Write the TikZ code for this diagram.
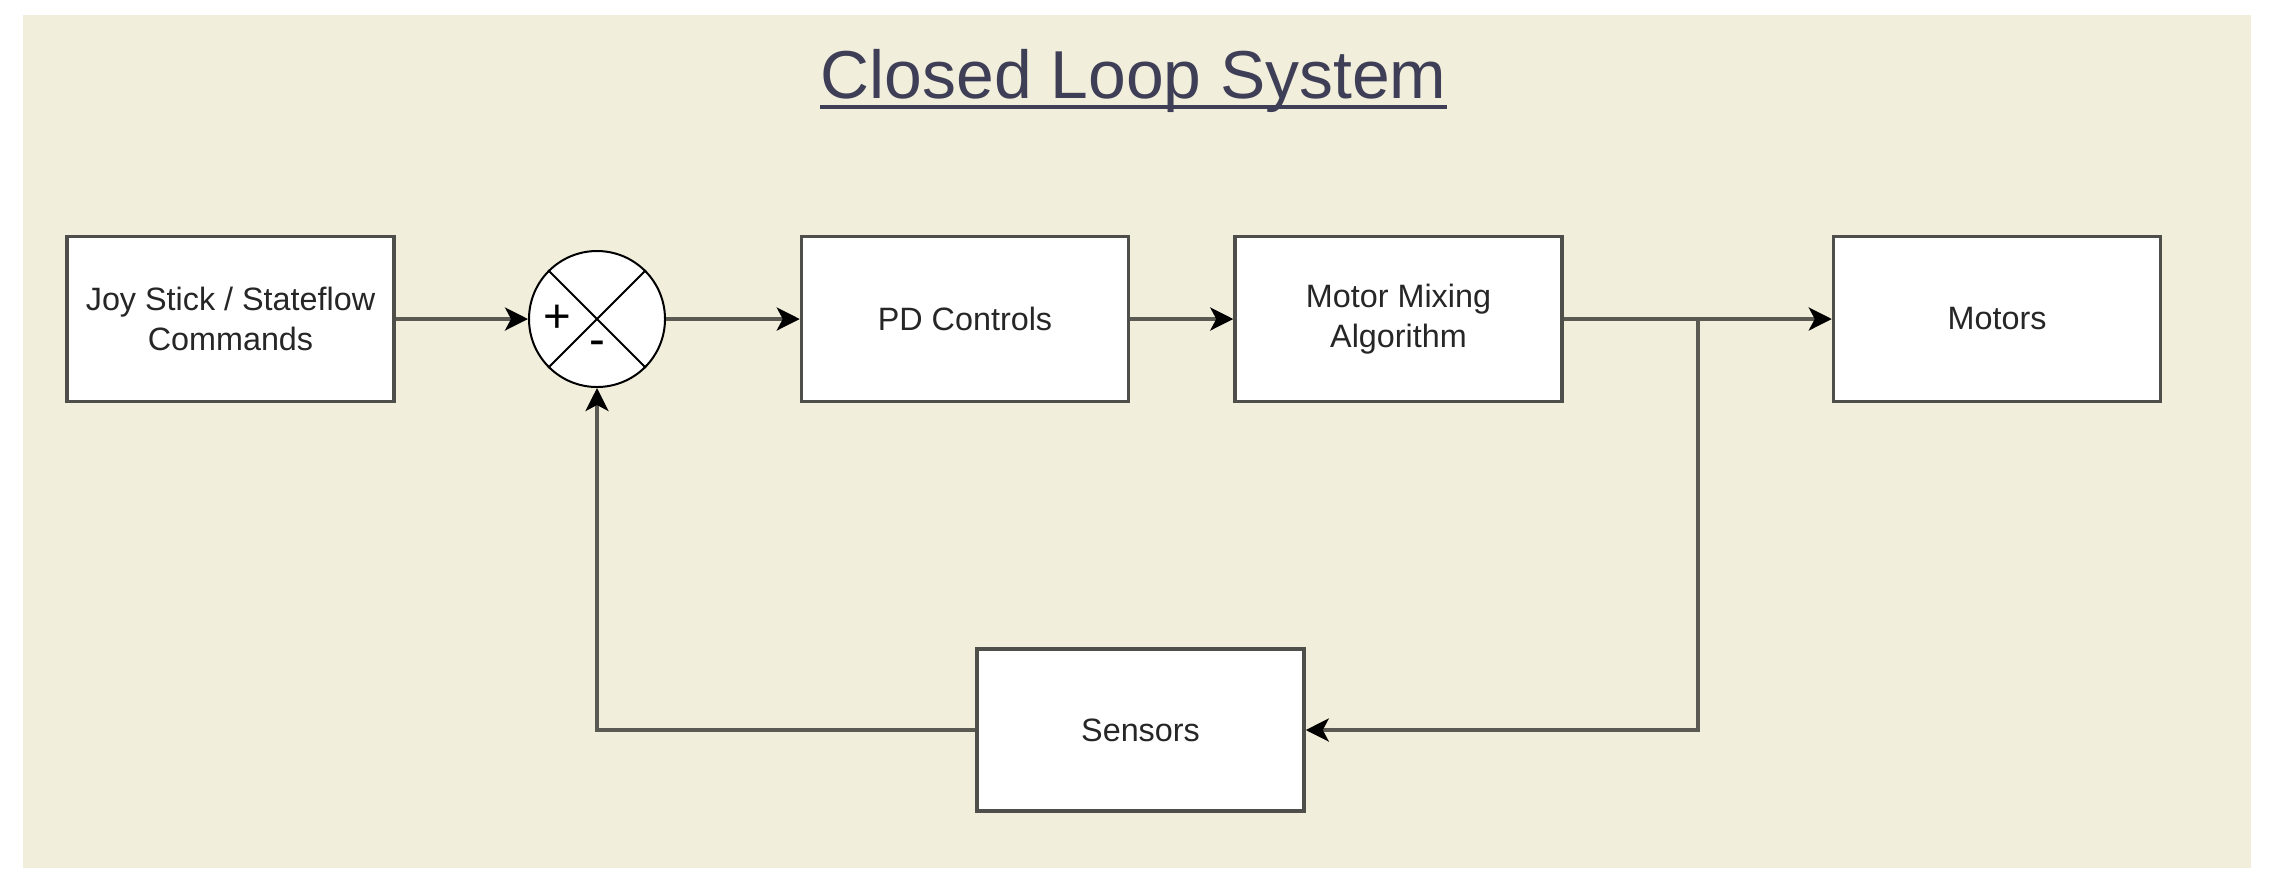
\documentclass[tikz,border=0pt]{standalone}
\usepackage{fontspec}
\setmainfont{Liberation Sans}
\usetikzlibrary{arrows.meta,calc,positioning}
\definecolor{paper}{HTML}{F2EEDC}
\definecolor{titleink}{HTML}{3E3F57}
\definecolor{wire}{HTML}{5A5A52}
\definecolor{edge}{HTML}{4E4E4A}

\begin{document}
\begin{tikzpicture}[
    font=\fontsize{9.2}{11.4}\selectfont,
    block/.style={draw=edge, line width=0.35mm, fill=white, text=black!85,
                  minimum width=32.7mm, minimum height=16.5mm, align=center,
                  inner sep=0pt},
    junction/.style={circle, draw=black, line width=0.2mm, fill=white,
                     minimum size=13.6mm, inner sep=0pt},
    sign/.style={font=\fontsize{13.5}{14}\selectfont, inner sep=0pt},
    arrow/.style={-{Stealth[length=2.3mm, width=2.3mm, inset=0.6mm, color=black]},
                  line width=0.35mm, wire}
]
\useasboundingbox (0,31.9mm) rectangle (227mm,-54.9mm);
\fill[white] (0,31.9mm) rectangle (227mm,-54.9mm);
\fill[paper] (2.3mm,30.4mm) rectangle (225.1mm,-54.9mm);

\node[font=\fontsize{19.3}{23}\selectfont, text=titleink, inner sep=0pt,
      anchor=base west] (title) at (82mm,22.1mm) {Closed Loop System~};
\draw[titleink, line width=0.4mm] ([yshift=-0.9mm]title.base west) --
    ([yshift=-0.9mm]title.base east);

\node[block] (joystick) at (23.05mm,0) {Joy Stick / Stateflow\\Commands};
\node[junction] (sum) at (59.7mm,0) {};
\draw[line width=0.2mm] (sum.north west) -- (sum.south east)
    (sum.north east) -- (sum.south west);
\node[sign] (plus) at ([xshift=-4mm]sum.center) {+};
\node[sign] (minus) at ([yshift=-2.9mm]sum.center) {-};

\node[block] (pd) at (96.5mm,0) {PD Controls};
\node[block] (mixing) at (139.85mm,0) {Motor Mixing\\Algorithm};
\node[block] (motors) at (199.7mm,0) {Motors};
\node[block, minimum height=16.2mm] (sensors) at (114.05mm,-41.1mm) {Sensors};
\coordinate (split) at (169.8mm,0);

\draw[arrow] (joystick) -- (sum);
\draw[arrow] (sum) -- (pd);
\draw[arrow] (pd) -- (mixing);
\draw[arrow] (mixing) -- (motors);
\draw[arrow] (split) |- (sensors);
\draw[arrow] (sensors) -| (sum);
\end{tikzpicture}
\end{document}
